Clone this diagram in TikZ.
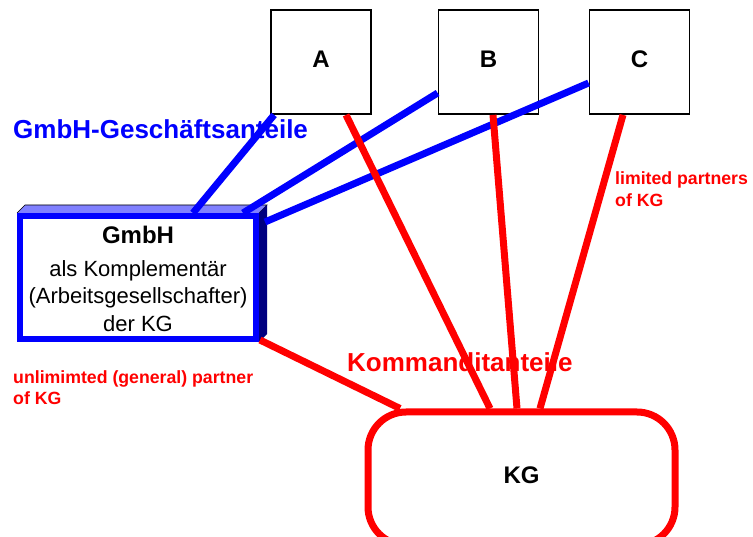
\documentclass[tikz,border=0pt]{standalone}
\usepackage{fontspec}
\setmainfont{Liberation Sans}
\definecolor{shareblue}{RGB}{0,0,255}
\definecolor{sharered}{RGB}{255,0,0}
\definecolor{topface}{RGB}{128,128,255}
\definecolor{sideface}{RGB}{0,0,128}
\begin{document}
\begin{tikzpicture}[x=1pt,y=-1pt,
  partner/.style={draw=black,line width=1.8pt,fill=white,minimum width=100pt,minimum height=104pt,
    inner sep=0pt,font=\fontsize{24}{28}\selectfont\bfseries,text height=17pt,text depth=5pt},
  blueline/.style={draw=shareblue,line width=7pt},
  redline/.style={draw=sharered,line width=7pt},
  bluelabel/.style={anchor=base west,inner sep=0pt,text=shareblue,font=\fontsize{26}{30}\selectfont\bfseries},
  redlabel/.style={anchor=base west,inner sep=0pt,text=sharered,font=\fontsize{26}{30}\selectfont\bfseries},
  smallred/.style={anchor=base west,inner sep=0pt,text=sharered,font=\fontsize{17.7}{21}\selectfont\bfseries},
  gmbhtext/.style={anchor=base,inner sep=0pt,font=\fontsize{22}{26}\selectfont}
]
\useasboundingbox (0,0) rectangle (753,537);
\clip (0,0) rectangle (753,537);

% labels (lines are drawn across them later)
\node[bluelabel] (lblGA) at (13,139) {GmbH-Geschäftsanteile};
\node[redlabel] (lblKA) at (347,372) {Kommanditanteile};
\node[smallred] (lblLP1) at (615,185) {limited partners};
\node[smallred] (lblLP2) at (615,207) {of KG};
\node[smallred] (lblUP1) at (13,384) {unlimimted (general) partner};
\node[smallred] (lblUP2) at (13,405) {of KG};

% partners
\node[partner] (A) at (321,62) {A};
\node[partner] (B) at (488.5,62) {B};
\node[partner] (C) at (639.5,62) {C};

% GmbH box with 3D faces
\fill[topface] (17,213) -- (25,205) -- (267,205) -- (259,213) -- cycle;
\draw[black,line width=0.6pt] (17,213) -- (25,205) -- (267,205) -- (259,213);
\fill[sideface] (259,213) -- (267,205) -- (267,334) -- (259,342) -- cycle;
\node[draw=shareblue,line width=6pt,fill=white,minimum width=236pt,minimum height=123pt,inner sep=0pt] (G) at (138,277.5) {};
\node[gmbhtext,font=\fontsize{24}{28}\selectfont\bfseries] (G1) at (138,244) {GmbH};
\node[gmbhtext] (G2) at (138,277) {als Komplementär};
\node[gmbhtext] (G3) at (138,304) {(Arbeitsgesellschafter)};
\node[gmbhtext] (G4) at (138,332) {der KG};

% KG box
\node[draw=sharered,line width=7pt,fill=white,rounded corners=38pt,minimum width=307pt,minimum height=133pt,
  inner sep=0pt,font=\fontsize{24}{28}\selectfont\bfseries,text height=17pt,text depth=8pt] (KG) at (521.5,478.5) {KG};

% shares of the GmbH
\draw[blueline] ([xshift=4pt]A.south west) -- ([xshift=55pt]G.north);
\draw[blueline] ([yshift=-31pt]B.west) -- ([xshift=105pt]G.north);
\draw[blueline] ([yshift=-21pt]C.west) -- ([xshift=6pt,yshift=-9pt]G.north east);

% limited partnership shares
\draw[redline] ([xshift=25pt]A.south) -- ([xshift=-31.5pt]KG.north);
\draw[redline] ([xshift=4.5pt]B.south) -- ([xshift=-4.5pt]KG.north);
\draw[redline] ([xshift=-16.5pt]C.south) -- ([xshift=18.5pt]KG.north);
\draw[redline] ([xshift=1pt,yshift=2pt]G.south east) -- ([xshift=-121.5pt]KG.north);
\end{tikzpicture}
\end{document}
